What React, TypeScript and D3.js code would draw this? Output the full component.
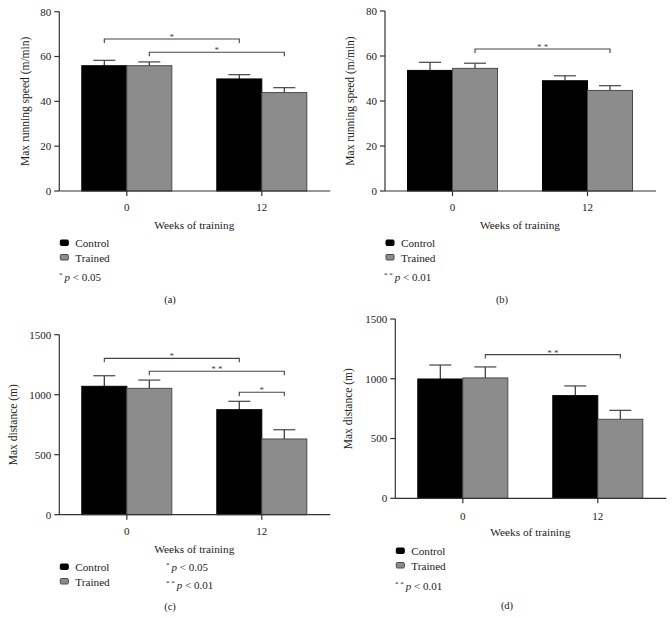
import React from "react";
import * as d3 from "d3";

const weeks = ["0", "12"];
const seriesNames = ["Control", "Trained"];

// Panel (a): max running speed
const speedAControl = [55.9, 50.0];
const speedAControlErr = [2.4, 1.9];
const speedATrained = [55.9, 43.9];
const speedATrainedErr = [1.7, 2.2];

// Panel (b): max running speed
const speedBControl = [53.6, 49.0];
const speedBControlErr = [3.6, 2.2];
const speedBTrained = [54.5, 44.7];
const speedBTrainedErr = [2.3, 2.1];

// Panel (c): max distance
const distCControl = [1070, 875];
const distCControlErr = [88, 70];
const distCTrained = [1053, 631];
const distCTrainedErr = [69, 77];

// Panel (d): max distance
const distDControl = [998, 859];
const distDControlErr = [117, 81];
const distDTrained = [1007, 661];
const distDTrainedErr = [92, 75];

const speedTicks = [0, 20, 40, 60, 80];
const distTicks = [0, 500, 1000, 1500];

// brackets: [fromWeek, fromSeries, toWeek, toSeries, level, label]
const bracketsA: [number, number, number, number, number, string][] = [
  [0, 0, 1, 0, 67.8, "*"],
  [0, 1, 1, 1, 61.9, "*"],
];
const bracketsB: [number, number, number, number, number, string][] = [
  [0, 1, 1, 1, 63.1, "**"],
];
const bracketsC: [number, number, number, number, number, string][] = [
  [0, 0, 1, 0, 1303, "*"],
  [0, 1, 1, 1, 1195, "**"],
  [1, 0, 1, 1, 1020, "*"],
];
const bracketsD: [number, number, number, number, number, string][] = [
  [0, 1, 1, 1, 1202, "**"],
];

const FONT = "'Liberation Serif', 'DejaVu Serif', serif";
const COLORS = ["#000000", "#8c8c8c"];
const STROKES = ["#000000", "#4a4a4a"];
const AXIS = "#333333";

type Note = { stars: string; p: string; x: number; y: number };

type PanelProps = {
  left: number;
  top: number;
  bottom: number;
  yMax: number;
  ticks: number[];
  yLabel: string;
  yLabelOffset: number;
  values: number[][];
  errs: number[][];
  brackets: [number, number, number, number, number, string][];
  tickLabelY: number;
  xLabelY: number;
  legendY: number;
  notes: Note[];
  panelLabel: string;
  panelLabelX: number;
  panelLabelY: number;
};

function Panel(p: PanelProps) {
  const x = d3.scalePoint<string>().domain(weeks).range([p.left, p.left + 270]).padding(0.5);
  const y = d3.scaleLinear().domain([0, p.yMax]).range([p.bottom, p.top]);
  const bw = 45;
  const barX = (g: number, s: number) => (x(weeks[g]) as number) + (s === 0 ? -bw : 0);
  const barC = (g: number, s: number) => barX(g, s) + bw / 2;
  const xCenter = p.left + 135;
  return (
    <g fontFamily={FONT}>
      {p.values.map((vals, s) =>
        vals.map((v, g) => (
          <g key={`b${s}-${g}`}>
            <line
              x1={barC(g, s)}
              x2={barC(g, s)}
              y1={y(v)}
              y2={y(v + p.errs[s][g])}
              stroke="#333"
              strokeWidth={1.2}
            />
            <line
              x1={barC(g, s) - 11}
              x2={barC(g, s) + 11}
              y1={y(v + p.errs[s][g])}
              y2={y(v + p.errs[s][g])}
              stroke="#444"
              strokeWidth={1.2}
            />
            <rect
              x={barX(g, s)}
              y={y(v)}
              width={bw}
              height={p.bottom - y(v)}
              fill={COLORS[s]}
              stroke={STROKES[s]}
              strokeWidth={1}
            />
          </g>
        ))
      )}
      <line x1={p.left} x2={p.left} y1={p.top} y2={p.bottom} stroke={AXIS} strokeWidth={1.2} />
      <line x1={p.left} x2={p.left + 271} y1={p.bottom} y2={p.bottom} stroke={AXIS} strokeWidth={1.2} />
      {p.ticks.map((t) => (
        <g key={`t${t}`}>
          <line x1={p.left - 5} x2={p.left} y1={y(t)} y2={y(t)} stroke={AXIS} strokeWidth={1.2} />
          <text x={p.left - 8} y={y(t) + 3.8} fontSize={11} textAnchor="end" fill="#222">
            {t}
          </text>
        </g>
      ))}
      {weeks.map((w) => (
        <g key={`w${w}`}>
          <line x1={x(w)} x2={x(w)} y1={p.bottom} y2={p.bottom + 5} stroke={AXIS} strokeWidth={1.2} />
          <text x={x(w)} y={p.tickLabelY} fontSize={11} textAnchor="middle" fill="#222">
            {w}
          </text>
        </g>
      ))}
      <text
        transform={`translate(${p.left - p.yLabelOffset},${(p.top + p.bottom) / 2}) rotate(-90)`}
        fontSize={11.5}
        textAnchor="middle"
        dominantBaseline="central"
        fill="#222"
      >
        {p.yLabel}
      </text>
      <text x={xCenter} y={p.xLabelY} fontSize={11.3} textAnchor="middle" fill="#222">
        Weeks of training
      </text>
      {p.brackets.map((b, i) => {
        const x1 = barC(b[0], b[1]);
        const x2 = barC(b[2], b[3]);
        const by = y(b[4]);
        return (
          <g key={`br${i}`}>
            <path
              d={`M${x1},${by + 4}V${by}H${x2}V${by + 4}`}
              fill="none"
              stroke="#444"
              strokeWidth={1.1}
            />
            <text x={(x1 + x2) / 2} y={by + 1} fontSize={9} textAnchor="middle" fill="#444">
              {b[5].split("").join(" ")}
            </text>
          </g>
        );
      })}
      {seriesNames.map((n, s) => (
        <g key={`l${n}`}>
          <rect
            x={p.left + 1}
            y={p.legendY + s * 14.5 - 7}
            width={8}
            height={5.5}
            rx={1}
            fill={COLORS[s]}
            stroke={STROKES[s]}
            strokeWidth={1}
          />
          <text x={p.left + 16} y={p.legendY + s * 14.5} fontSize={11.2} fill="#222">
            {n}
          </text>
        </g>
      ))}
      {p.notes.map((nt, i) => (
        <text key={`n${i}`} x={nt.x} y={nt.y} fontSize={11} fill="#222">
          <tspan fontSize={7} dy={-4}>
            {nt.stars.split("").join(" ")}
          </tspan>
          <tspan dy={4} fontStyle="italic" dx={2}>
            p
          </tspan>
          <tspan>{` < ${nt.p}`}</tspan>
        </text>
      ))}
      <text x={p.panelLabelX} y={p.panelLabelY} fontSize={10.5} textAnchor="middle" fill="#222">
        {p.panelLabel}
      </text>
    </g>
  );
}

export default function App() {
  return (
    <svg width={672} height={618} style={{ position: "absolute", left: 0, top: 0, background: "#fff" }}>
      <rect width={672} height={618} fill="#fff" />
      <Panel
        left={59.3}
        top={11.7}
        bottom={191}
        yMax={80}
        ticks={speedTicks}
        yLabel="Max running speed (m/min)"
        yLabelOffset={34}
        values={[speedAControl, speedATrained]}
        errs={[speedAControlErr, speedATrainedErr]}
        brackets={bracketsA}
        tickLabelY={211}
        xLabelY={229}
        legendY={247}
        notes={[{ stars: "*", p: "0.05", x: 59, y: 281 }]}
        panelLabel="(a)"
        panelLabelX={170}
        panelLabelY={303}
      />
      <Panel
        left={385}
        top={11}
        bottom={191}
        yMax={80}
        ticks={speedTicks}
        yLabel="Max running speed (m/min)"
        yLabelOffset={35.5}
        values={[speedBControl, speedBTrained]}
        errs={[speedBControlErr, speedBTrainedErr]}
        brackets={bracketsB}
        tickLabelY={211}
        xLabelY={229}
        legendY={247}
        notes={[{ stars: "**", p: "0.01", x: 384, y: 281 }]}
        panelLabel="(b)"
        panelLabelX={502}
        panelLabelY={303}
      />
      <Panel
        left={59.3}
        top={334.7}
        bottom={514.7}
        yMax={1500}
        ticks={distTicks}
        yLabel="Max distance (m)"
        yLabelOffset={46.5}
        values={[distCControl, distCTrained]}
        errs={[distCControlErr, distCTrainedErr]}
        brackets={bracketsC}
        tickLabelY={534.5}
        xLabelY={552.5}
        legendY={571}
        notes={[
          { stars: "*", p: "0.05", x: 166, y: 571 },
          { stars: "**", p: "0.01", x: 166, y: 589 },
        ]}
        panelLabel="(c)"
        panelLabelX={170}
        panelLabelY={609.5}
      />
      <Panel
        left={395.3}
        top={319}
        bottom={498.3}
        yMax={1500}
        ticks={distTicks}
        yLabel="Max distance (m)"
        yLabelOffset={47}
        values={[distDControl, distDTrained]}
        errs={[distDControlErr, distDTrainedErr]}
        brackets={bracketsD}
        tickLabelY={519.5}
        xLabelY={536}
        legendY={555}
        notes={[{ stars: "**", p: "0.01", x: 395, y: 589.5 }]}
        panelLabel="(d)"
        panelLabelX={507}
        panelLabelY={609}
      />
    </svg>
  );
}
